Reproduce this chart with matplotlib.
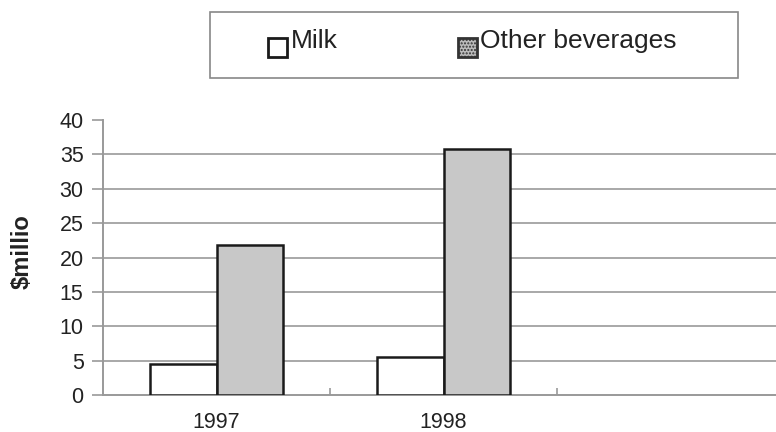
import matplotlib
matplotlib.use("Agg")
import matplotlib.pyplot as plt
from matplotlib.patches import Rectangle
import numpy as np

plt.rcParams['font.family'] = ['Liberation Sans', 'DejaVu Sans']

years = ['1997', '1998', '']
milk = [4.5, 5.6, np.nan]
other_beverages = [21.8, 35.8, np.nan]
yticks = [0, 5, 10, 15, 20, 25, 30, 35, 40]

W, H = 776, 432
fig = plt.figure(figsize=(W / 100, H / 100), dpi=100)
ax = fig.add_axes([103 / W, 37 / H, 681 / W, 275 / H])

x = np.arange(len(years))
bw = 0.293
ax.bar(x - bw / 2, milk, bw, color='white', edgecolor='#1a1a1a', linewidth=1.8, zorder=3)
ax.bar(x + bw / 2, other_beverages, bw, color='#c8c8c8', edgecolor='#1a1a1a',
       linewidth=1.8, zorder=3)

ax.set_xlim(-0.5, 2.5)
ax.set_ylim(0, 40)
ax.set_yticks(yticks)
ax.set_yticklabels([str(v) for v in yticks], fontsize=15.5, color='#222222')
ax.set_xticks(x)
ax.set_xticklabels(years, fontsize=15.5, color='#222222')
ax.set_xticks([0.5, 1.5], minor=True)
ax.tick_params(axis='x', which='major', length=0, pad=12)
ax.tick_params(axis='x', which='minor', direction='in', length=5, width=1.2, color='#999999')
ax.tick_params(axis='y', length=8, width=1.2, color='#999999', pad=6)

ax.grid(axis='y', color='#a8a8a8', linewidth=1.4, zorder=0)
ax.set_axisbelow(True)
gl = ax.get_ygridlines()
gl[0].set_visible(False)
gl[-1].set_visible(False)

for side in ('top', 'right'):
    ax.spines[side].set_visible(False)
for side in ('left', 'bottom'):
    ax.spines[side].set_color('#999999')
    ax.spines[side].set_linewidth(1.4)

fig.text(22 / W, 1 - 252 / H, '$millio', rotation=90, fontsize=17, fontweight='bold',
         ha='center', va='center', color='#222222')

# legend box
fig.patches.append(Rectangle((210 / W, 1 - 78 / H), 528 / W, 66 / H, transform=fig.transFigure,
                             facecolor='white', edgecolor='#888888', linewidth=1.2))
sq = 19
fig.patches.append(Rectangle((268 / W, 1 - 57 / H), sq / W, sq / H, transform=fig.transFigure,
                             facecolor='white', edgecolor='#1a1a1a', linewidth=2))
fig.patches.append(Rectangle((458 / W, 1 - 57 / H), sq / W, sq / H, transform=fig.transFigure,
                             facecolor='#bbbbbb', edgecolor='#333333', linewidth=2,
                             hatch='.....'))
fig.text(291 / W, 1 - 41 / H, 'Milk', fontsize=19, ha='left', va='center', color='#222222')
fig.text(480 / W, 1 - 41 / H, 'Other beverages', fontsize=19, ha='left', va='center',
         color='#222222')

fig.savefig('out.png', dpi=100)
